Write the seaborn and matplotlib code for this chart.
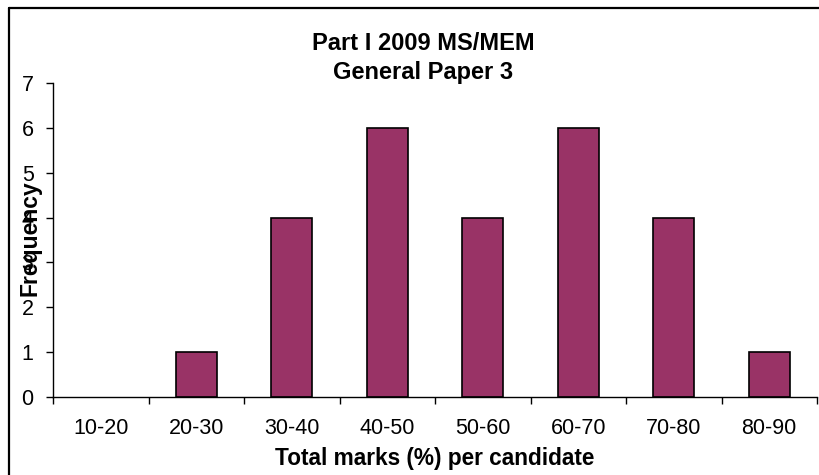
import matplotlib
matplotlib.use("Agg")
import matplotlib.pyplot as plt
from matplotlib.lines import Line2D
import seaborn as sns
import pandas as pd
import numpy as np

# Score bands and number of candidates in each
mark_bands = ["10-20", "20-30", "30-40", "40-50", "50-60", "60-70", "70-80", "80-90"]
frequency = [0, 1, 4, 6, 4, 6, 4, 1]
y_ticks = [0, 1, 2, 3, 4, 5, 6, 7]

title_lines = ["Part I 2009 MS/MEM", "General Paper 3"]
x_label = "Total marks (%) per candidate"
y_label = "Frequency"

sns.set_style("white")
plt.rcParams["font.family"] = ["Liberation Sans", "DejaVu Sans"]
plt.rcParams.update({"text.color": "black", "axes.labelcolor": "black",
                     "xtick.color": "black", "ytick.color": "black"})

df = pd.DataFrame({"band": mark_bands, "count": frequency})

fig = plt.figure(figsize=(8.19, 4.75), dpi=100)
ax = fig.add_axes([53 / 819, 1 - 397 / 475, (817 - 53) / 819, (397 - 83) / 475])

sns.barplot(data=df, x="band", y="count", order=mark_bands, color="#993366",
            saturation=1, width=0.43, edgecolor="black", linewidth=1.2, ax=ax)

# an empty band has no visible bar outline
for patch in ax.patches:
    if patch.get_height() == 0:
        patch.set_linewidth(0)

ax.set_xlim(-0.5, len(mark_bands) - 0.5)
ax.set_ylim(0, 7)
ax.set_yticks(y_ticks)
ax.set_yticklabels([str(t) for t in y_ticks])

# category labels sit between boundary tick marks
ax.set_xticks(np.arange(len(mark_bands)))
ax.set_xticklabels(mark_bands)
ax.set_xticks(np.arange(len(mark_bands) + 1) - 0.5, minor=True)
ax.tick_params(axis="x", which="major", bottom=True, length=0, pad=15, labelsize=15.5)
ax.tick_params(axis="x", which="minor", bottom=True, length=5, width=1, direction="out",
               color="black")
ax.tick_params(axis="y", which="major", left=True, length=5, width=1, direction="out",
               color="black", pad=9, labelsize=15.5)
ax.grid(False)

for side in ["top", "right"]:
    ax.spines[side].set_visible(False)
for side in ["left", "bottom"]:
    ax.spines[side].set_color("black")
    ax.spines[side].set_linewidth(1)

ax.set_xlabel(x_label, fontsize=16.3, fontweight="bold", labelpad=6)
ax.set_ylabel("")
fig.text(30 / 819, 1 - 238 / 475, y_label, rotation=90, fontsize=16.5, fontweight="bold",
         ha="center", va="center")

fig.text(423 / 819, 1 - 58 / 475, "\n".join(title_lines), fontsize=17, fontweight="bold",
         ha="center", va="center", linespacing=1.3)

# outer chart frame along the top and left edges
fig.add_artist(Line2D([9 / 819, 9 / 819], [0, 1 - 8 / 475], transform=fig.transFigure,
                      color="black", lw=1.6))
fig.add_artist(Line2D([9 / 819, 1], [1 - 8 / 475, 1 - 8 / 475], transform=fig.transFigure,
                      color="black", lw=1.6))

fig.savefig("out.png", dpi=100)
